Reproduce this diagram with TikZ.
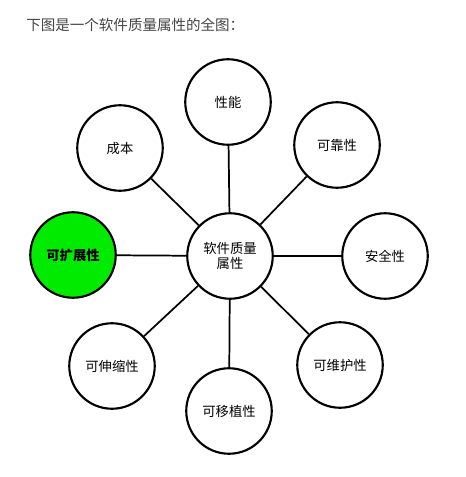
\documentclass[tikz,border=0pt]{standalone}
\usepackage{fontspec}
\setmainfont{Noto Sans CJK SC}
\definecolor{hl}{RGB}{0,235,0}
\definecolor{ttl}{RGB}{68,68,68}
\begin{document}
\begin{tikzpicture}[x=0.75pt,y=-0.75pt,
  attr/.style={circle,draw=black,line width=1.6pt,fill=white,minimum size=85.5*0.75pt,inner sep=0pt,font=\fontsize{10pt}{12pt}\selectfont,align=center},
  link/.style={line width=1.3pt,black}]
\useasboundingbox (0,0) rectangle (466,477);
\node[anchor=west,text=ttl,font=\fontsize{10.9pt}{12pt}\selectfont,inner sep=0pt] (title) at (26,25) {下图是一个软件质量属性的全图：};
\node[attr] (c) at (230,256) {软件质量\\[-1pt]属性};
\node[attr] (perf) at (228,102) {性能};
\node[attr] (cost) at (120,148) {成本};
\node[attr] (rel) at (337,145) {可靠性};
\node[attr,fill=hl,font=\bfseries\fontsize{10pt}{12pt}\selectfont] (ext) at (73,255) {可扩展性};
\node[attr] (sec) at (385,256) {安全性};
\node[attr] (scal) at (112,366) {可伸缩性};
\node[attr] (port) at (229,411) {可移植性};
\node[attr] (maint) at (340,365) {可维护性};
\foreach \n in {perf,cost,rel,ext,sec,scal,port,maint}
  \draw[link] (c) -- (\n);
\end{tikzpicture}
\end{document}
